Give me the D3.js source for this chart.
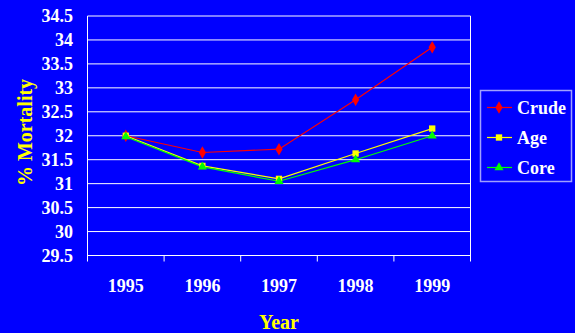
<!DOCTYPE html>
<html><head><meta charset="utf-8">
<script src="https://cdn.jsdelivr.net/npm/d3@7"></script>
<style>
html,body{margin:0;padding:0;background:#0000ff;}
svg{display:block;}
</style></head>
<body>
<svg id="c" width="575" height="333"></svg>
<script>
const years = ["1995","1996","1997","1998","1999"];
const crude = [32.0, 31.65, 31.72, 32.75, 33.85];
const age   = [32.0, 31.37, 31.1, 31.63, 32.15];
const core  = [31.98, 31.35, 31.05, 31.5, 32.0];
const yTicks = [29.5,30,30.5,31,31.5,32,32.5,33,33.5,34,34.5];
const seriesNames = ["Crude","Age","Core"];
const seriesColors = ["#ff0000","#ffff00","#00ff00"];
const seriesData = [crude, age, core];
const markerTypes = [d3.symbolDiamond, d3.symbolSquare, d3.symbolTriangle];

const FONT = "'Liberation Serif', 'Times New Roman', Tinos, 'DejaVu Serif', serif";
const svg = d3.select("#c");
svg.append("rect").attr("width",575).attr("height",333).attr("fill","#0000ff");

const L=87.5, R=470.5, T=16, B=255.5;
const x = d3.scaleBand().domain(years).range([L,R]);
const y = d3.scaleLinear().domain([29.5,34.5]).range([B,T]);

svg.append("g").selectAll("line").data(yTicks).join("line")
  .attr("x1",L).attr("x2",R).attr("y1",d=>y(d)).attr("y2",d=>y(d))
  .attr("stroke","#ffffff").attr("stroke-width",1);

svg.append("line").attr("x1",L).attr("x2",L).attr("y1",T).attr("y2",B+6).attr("stroke","#fff");
svg.append("line").attr("x1",R).attr("x2",R).attr("y1",T).attr("y2",B+6).attr("stroke","#fff");

const bounds = years.slice(1).map(d=>x(d));
svg.append("g").selectAll("line").data(bounds).join("line")
  .attr("x1",d=>d).attr("x2",d=>d).attr("y1",B).attr("y2",B+6)
  .attr("stroke","#fff");

const txt = sel => sel.attr("font-family",FONT).attr("font-weight","bold");

svg.append("g").selectAll("text").data(yTicks).join("text")
  .attr("x",73).attr("y",d=>y(d)).attr("dy","0.35em")
  .attr("text-anchor","end").attr("fill","#fff").attr("font-size",18)
  .call(txt).text(d=>d);

svg.append("g").selectAll("text").data(years).join("text")
  .attr("x",d=>x(d)+x.bandwidth()/2).attr("y",292)
  .attr("text-anchor","middle").attr("fill","#fff").attr("font-size",18)
  .call(txt).text(d=>d);

svg.append("text").attr("x",(L+R)/2).attr("y",329).attr("text-anchor","middle")
  .attr("fill","#ffff00").attr("font-size",20).call(txt).text("Year");
svg.append("text").attr("transform","translate(32,132.5) rotate(-90)")
  .attr("text-anchor","middle").attr("fill","#ffff00").attr("font-size",20)
  .call(txt).text("% Mortality");

const line = d3.line().x((d,i)=>x(years[i])+x.bandwidth()/2).y(d=>y(d));
seriesData.forEach((data,k)=>{
  svg.append("path").datum(data).attr("d",line).attr("fill","none")
    .attr("stroke",seriesColors[k]).attr("stroke-width",1.2);
});
const sizes=[45,40,36];
seriesData.forEach((data,k)=>{
  const sym = d3.symbol().type(markerTypes[k]).size(sizes[k]);
  svg.append("g").selectAll("path").data(data).join("path")
    .attr("d",sym)
    .attr("transform",(d,i)=>`translate(${x(years[i])+x.bandwidth()/2},${y(d)})`)
    .attr("fill",seriesColors[k]);
});

const lg = svg.append("g");
lg.append("rect").attr("x",480.5).attr("y",90.5).attr("width",91).attr("height",91)
  .attr("fill","#0000ff").attr("stroke","#a0a0ff").attr("stroke-width",1.5);
seriesNames.forEach((n,k)=>{
  const cy = 107.5 + k*30;
  lg.append("line").attr("x1",487).attr("x2",512).attr("y1",cy).attr("y2",cy)
    .attr("stroke",seriesColors[k]).attr("stroke-width",1.2);
  lg.append("path").attr("d",d3.symbol().type(markerTypes[k]).size(sizes[k]))
    .attr("transform",`translate(499,${cy})`).attr("fill",seriesColors[k]);
  lg.append("text").attr("x",517).attr("y",cy).attr("dy","0.35em")
    .attr("fill","#fff").attr("font-size",18).call(txt).text(n);
});
</script>
</body></html>
